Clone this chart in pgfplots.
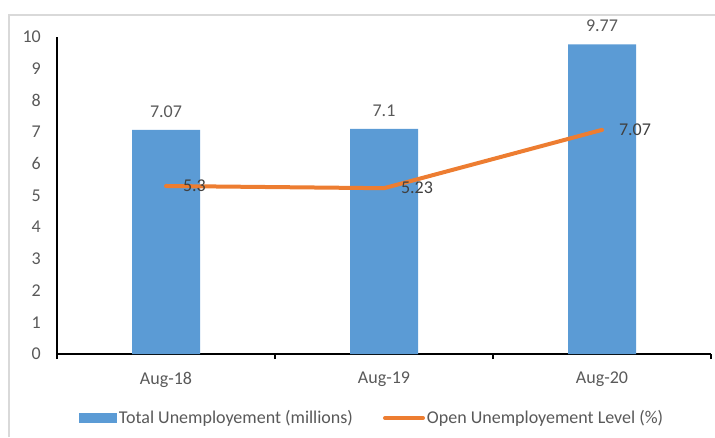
\documentclass[border=0pt]{standalone}
\usepackage{fontspec}
\setmainfont{Carlito}
\usepackage{pgfplots}
\pgfplotsset{compat=1.18}

\definecolor{barblue}{HTML}{5B9BD5}
\definecolor{lineorange}{HTML}{ED7D31}
\definecolor{txtgray}{HTML}{595959}
\definecolor{lblgray}{HTML}{404040}
\definecolor{framegray}{HTML}{D9D9D9}

% Unemployment figures
\pgfplotstableread{
x  total  lbl
0  7.07   7.07
1  7.10   7.1
2  9.77   9.77
}\totaltable
\pgfplotstableread{
x  rate  lbl
0  5.30  5.3
1  5.23  5.23
2  7.07  7.07
}\ratetable

\begin{document}
\begin{tikzpicture}[x=1pt,y=1pt]
\useasboundingbox (0,0) rectangle (715,437);
% chart area frame
\draw[framegray, line width=2pt] (9,0) -- (9,422) -- (716,422);
\begin{axis}[
  at={(57pt,83pt)}, anchor=south west,
  scale only axis, width=654pt, height=317pt,
  xmin=-0.5, xmax=2.5, ymin=0, ymax=10,
  axis x line=bottom, axis y line=left,
  axis line style={-, black, line width=1.3pt},
  xtick={0,1,2}, xticklabels={Aug-18,Aug-19,Aug-20},
  ytick={0,1,...,10},
  major tick length=0pt,
  extra x ticks={-0.5,0.5,1.5,2.5}, extra x tick labels={},
  extra x tick style={major tick length=5pt, tick align=outside,
    tick style={black, line width=1.3pt}},
  /pgf/number format/assume math mode=true,
  ticklabel style={font=\fontsize{18}{21}\selectfont, text=txtgray, inner sep=0pt},
  yticklabel style={xshift=-16pt},
  xticklabel style={yshift=-18pt},
  legend columns=2,
  legend style={at={(0.4817,-0.202)}, anchor=center, draw=none,
    font=\fontsize{18}{21}\selectfont, text=txtgray,
    /tikz/every even column/.append style={column sep=28pt},
    nodes={inner sep=2pt}},
]
\addplot[fill=barblue, draw=none, ybar, bar width=68pt,
  nodes near coords, point meta=explicit symbolic,
  nodes near coords style={font=\fontsize{18}{21}\selectfont, text=txtgray,
    anchor=south, inner sep=0pt, yshift=12pt},
  legend image code/.code={\fill[barblue] (0pt,-5pt) rectangle (38pt,5pt);}]
  table[x=x, y=total, meta=lbl] {\totaltable};
\addlegendentry{Total Unemployement (millions)}
\addplot[lineorange, line width=4pt, line cap=round, line join=round, mark=none,
  nodes near coords, point meta=explicit symbolic,
  nodes near coords style={font=\fontsize{18}{21}\selectfont, text=lblgray,
    anchor=west, inner sep=0pt, xshift=15pt},
  legend image code/.code={\draw[lineorange, line width=4pt, line cap=round] (2pt,0pt) -- (40pt,0pt);}]
  table[x=x, y=rate, meta=lbl] {\ratetable};
\addlegendentry{Open Unemployement Level (\%)}
\end{axis}
\end{tikzpicture}
\end{document}
